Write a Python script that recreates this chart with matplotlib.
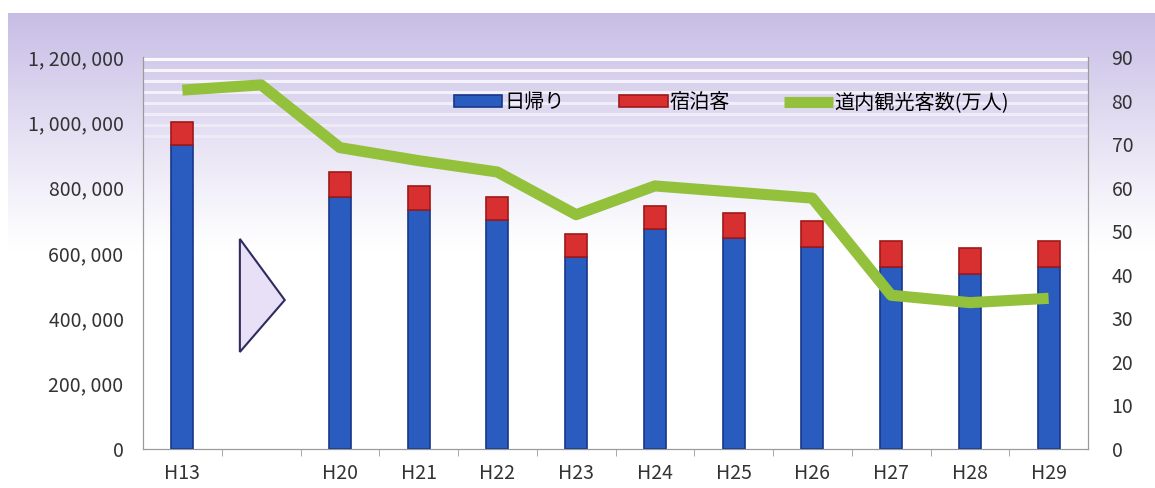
import matplotlib.pyplot as plt
import numpy as np
from matplotlib.patches import Polygon

plt.rcParams['font.family'] = ['Noto Sans CJK JP', 'DejaVu Sans']

categories = ['H13', '', 'H20', 'H21', 'H22', 'H23', 'H24', 'H25', 'H26', 'H27', 'H28', 'H29']
bar_labels = ['H13', 'H20', 'H21', 'H22', 'H23', 'H24', 'H25', 'H26', 'H27', 'H28', 'H29']
day_trip = [930000, 771000, 732000, 701000, 589000, 672000, 645000, 619000, 558000, 536000, 558000]
overnight = [72000, 77000, 73000, 71000, 69000, 72000, 76000, 79000, 80000, 80000, 80000]
visitors = [82.4, 83.6, 69.2, 66.2, 63.6, 53.8, 60.4, 59.0, 57.6, 35.3, 33.6, 34.6]

W, H = 1155, 488
fig = plt.figure(figsize=(W / 100, H / 100), dpi=100)

# background gradient
bg = fig.add_axes([8 / W, 0, 1 - 8 / W, (H - 13) / H])
t = np.linspace(0, 1, 300)[:, None]
purple = np.array([0.78, 0.74, 0.90])
k = np.clip(1 - t / 0.5, 0, 1) ** 1.1
grad = 1 - (1 - purple)[None, None, :] * k[:, :, None]
bg.imshow(np.repeat(grad, 2, axis=1), aspect='auto', extent=[0, 1, 0, 1])
bg.axis('off')

ax = fig.add_axes([143 / W, (H - 449) / H, (1088 - 143) / W, (449 - 57) / H])
ax.patch.set_alpha(0)

# decorative stripes in the upper plot area
for i, yy in enumerate(np.arange(0.995, 0.78, -0.028)):
    ax.plot([0, 1], [yy, yy], transform=ax.transAxes, color='white',
            lw=2.2, alpha=0.9 - i * 0.08, zorder=0)

xpos = [categories.index(c) for c in bar_labels]
ax.bar(xpos, day_trip, width=0.28, color='#2a5cbf', edgecolor='#17378a', lw=1.2,
       label='日帰り', zorder=3)
ax.bar(xpos, overnight, bottom=day_trip, width=0.28, color='#d83030', edgecolor='#a01818',
       lw=1.2, label='宿泊客', zorder=3)

tri = Polygon([[0.73, 643000], [0.73, 297000], [1.3, 456000]], closed=True,
              facecolor='#e8e0f6', edgecolor='#2e2b5e', lw=1.5, zorder=2)
ax.add_patch(tri)

ax.set_xlim(-0.5, len(categories) - 0.5)
ax.set_ylim(0, 1200000)
yt = np.arange(0, 1200001, 200000)
ax.set_yticks(yt)
ax.set_yticklabels([f'{v:,}'.replace(',', ', ') for v in yt])
ax.set_xticks(range(len(categories)))
ax.set_xticklabels(categories)
ax.set_xticks(np.arange(0.5, len(categories) - 0.5), minor=True)
ax.tick_params(axis='x', which='major', length=0, pad=10, labelsize=14, colors='#333333')
ax.tick_params(axis='x', which='minor', length=5, direction='out', color='#9a9a9a')
ax.tick_params(axis='y', length=0, pad=14, labelsize=14, colors='#333333')

ax2 = ax.twinx()
ax2.plot(range(len(categories)), visitors, color='#93c13c', lw=8,
         solid_capstyle='butt', label='道内観光客数(万人)', zorder=5)
ax2.set_ylim(0, 90)
ax2.set_yticks(np.arange(0, 91, 10))
ax2.tick_params(axis='y', length=0, pad=17, labelsize=14, colors='#333333')

for a in (ax, ax2):
    a.spines['top'].set_visible(False)
    for s in ('left', 'right', 'bottom'):
        a.spines[s].set_color('#9a9a9a')

h1, l1 = ax.get_legend_handles_labels()
h2, l2 = ax2.get_legend_handles_labels()
ax2.legend(h1 + h2, l1 + l2, ncol=3, loc='center', bbox_to_anchor=(0.623, 0.883),
           frameon=False, fontsize=14.5, handlelength=2.4, handleheight=0.5,
           handletextpad=0.1, columnspacing=2.7)

plt.savefig('out.png', dpi=100)
